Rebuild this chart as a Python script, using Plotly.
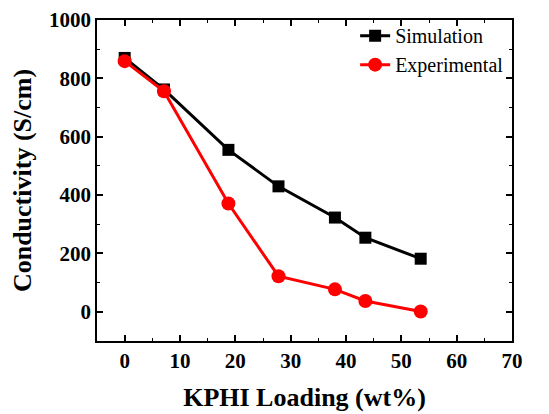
import plotly.graph_objects as go

loading_sim = [0, 7.1, 18.75, 27.8, 38.0, 43.5, 53.5]
cond_sim = [870, 762, 555, 430, 323, 254, 182]
loading_exp = [0, 7.1, 18.75, 27.8, 38.0, 43.5, 53.5]
cond_exp = [859, 756, 371, 122, 77, 37, 1]

font_family = "Liberation Serif, Times New Roman, serif"

fig = go.Figure()
fig.add_trace(go.Scatter(
    x=loading_sim, y=cond_sim, name="Simulation", mode="lines+markers",
    line=dict(color="black", width=3),
    marker=dict(symbol="square", size=12, color="black"),
))
fig.add_trace(go.Scatter(
    x=loading_exp, y=cond_exp, name="Experimental", mode="lines+markers",
    line=dict(color="#ff0000", width=3),
    marker=dict(symbol="circle", size=14, color="#ff0000"),
))

axis_common = dict(
    showline=True, linecolor="black", linewidth=1.5, mirror="allticks",
    ticks="inside", ticklen=6, tickwidth=1.5, tickcolor="black",
    showgrid=False, zeroline=False, automargin=False,
    tickfont=dict(family=font_family, size=21, color="black", weight="bold"),
)

fig.update_xaxes(
    range=[-5, 70], dtick=10, tick0=0,
    minor=dict(ticks="inside", dtick=5, ticklen=3, tickwidth=1.2, tickcolor="black"),
    title=dict(text="<b>KPHI Loading (wt%)</b>", font=dict(family=font_family, size=26, color="black"), standoff=16),
    **axis_common,
)
fig.update_yaxes(
    range=[-100, 1000], dtick=200, tick0=0,
    minor=dict(ticks="inside", dtick=100, ticklen=3, tickwidth=1.2, tickcolor="black"),
    title=dict(text="<b>Conductivity (S/cm)</b>", font=dict(family=font_family, size=26, color="black"), standoff=12),
    **axis_common,
)

fig.update_layout(
    width=541, height=406,
    margin=dict(l=89, r=37, t=8, b=73),
    paper_bgcolor="white", plot_bgcolor="white",
    showlegend=True,
    legend=dict(
        x=0.622, y=1.012, xanchor="left", yanchor="top",
        bgcolor="rgba(0,0,0,0)",
        font=dict(family=font_family, size=20, color="black"),
        tracegroupgap=0,
    ),
)

fig.write_html("out.html")
